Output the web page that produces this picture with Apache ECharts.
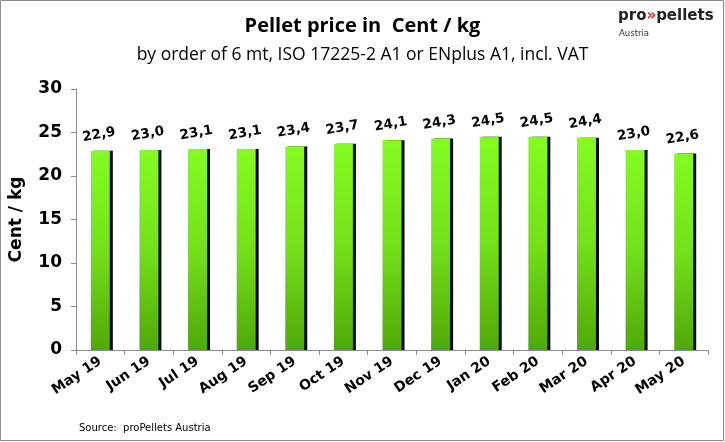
<!DOCTYPE html>
<html><head><meta charset="utf-8">
<script src="https://cdn.jsdelivr.net/npm/echarts@6/dist/echarts.min.js"></script>
<style>html,body{margin:0;padding:0;background:#fff}#c{width:725px;height:442px}</style>
</head><body><div id="c"></div>
<script>
var categories = ['May 19','Jun 19','Jul 19','Aug 19','Sep 19','Oct 19','Nov 19','Dec 19','Jan 20','Feb 20','Mar 20','Apr 20','May 20'];
var prices = [22.9, 23.0, 23.1, 23.1, 23.4, 23.7, 24.1, 24.3, 24.5, 24.5, 24.4, 23.0, 22.6];
var yTicks = [0, 5, 10, 15, 20, 25, 30];

var chart = echarts.init(document.getElementById('c'), null, {renderer: 'canvas'});
var axisColor = '#8c8c8c';
chart.setOption({
  animation: false,
  backgroundColor: '#fff',
  title: [
    {text: 'Pellet price in  Cent / kg', left: 'center', top: 11,
     textStyle: {fontFamily: 'Open Sans', fontWeight: 'bold', fontSize: 20, color: '#000'}},
    {text: 'by order of 6 mt, ISO 17225-2 A1 or ENplus A1, incl. VAT', left: 'center', top: 41,
     textStyle: {fontFamily: 'Open Sans', fontWeight: 'normal', fontSize: 17.5, color: '#000'}}
  ],
  grid: {left: 76, right: 17, top: 89, bottom: 92},
  xAxis: {
    type: 'category', data: categories,
    axisLine: {lineStyle: {color: axisColor, width: 1}},
    axisTick: {show: true, length: 5, lineStyle: {color: axisColor}},
    axisLabel: {rotate: 34, margin: 10, fontFamily: 'DejaVu Sans', fontWeight: 'bold', fontSize: 14, color: '#000'}
  },
  yAxis: {
    type: 'value', min: yTicks[0], max: yTicks[yTicks.length-1], interval: 5,
    name: 'Cent / kg', nameLocation: 'middle', nameGap: 51,
    nameTextStyle: {fontFamily: 'DejaVu Sans', fontWeight: 'bold', fontSize: 17, color: '#000'},
    axisLine: {show: true, lineStyle: {color: axisColor}},
    axisTick: {show: true, length: 5, lineStyle: {color: axisColor}},
    splitLine: {show: false},
    axisLabel: {margin: 14, fontFamily: 'DejaVu Sans', fontWeight: 'bold', fontSize: 17, color: '#000'}
  },
  series: [{
    type: 'bar', data: prices, barWidth: 19,
    itemStyle: {
      color: {type: 'linear', x: 0, y: 0, x2: 0, y2: 1, colorStops: [
        {offset: 0, color: '#84fc22'}, {offset: 0.5, color: '#74e01a'}, {offset: 1, color: '#50a808'}]},
      shadowColor: '#000', shadowOffsetX: 3, shadowOffsetY: 0, shadowBlur: 0
    },
    label: {
      show: true, position: 'top', distance: 9, rotate: 10,
      fontFamily: 'DejaVu Sans', fontWeight: 'bold', fontSize: 13.5, color: '#000',
      formatter: function(p){ return p.value.toFixed(1).replace('.', ','); }
    }
  }],
  graphic: [
    {type: 'rect', shape: {x: 0.5, y: 0.5, width: 723, height: 440}, style: {fill: 'none', stroke: '#8a8a8a', lineWidth: 1}, silent: true},
    {type: 'text', left: 618, top: 9, style: {
      text: '{a|pro}{b|»}{a|pellets}', rich: {
        a: {fontFamily: 'DejaVu Sans', fontWeight: 'bold', fontSize: 15, fill: '#222'},
        b: {fontFamily: 'DejaVu Sans', fontWeight: 'bold', fontSize: 15, fill: '#e3262a'}}}},
    {type: 'text', left: 619, top: 29, style: {text: 'Austria', fontFamily: 'DejaVu Sans', fontSize: 8.5, fill: '#333'}},
    {type: 'text', left: 79, top: 423, style: {text: 'Source:  proPellets Austria', fontFamily: 'DejaVu Sans', fontSize: 10, fill: '#000'}}
  ]
});
</script></body></html>
